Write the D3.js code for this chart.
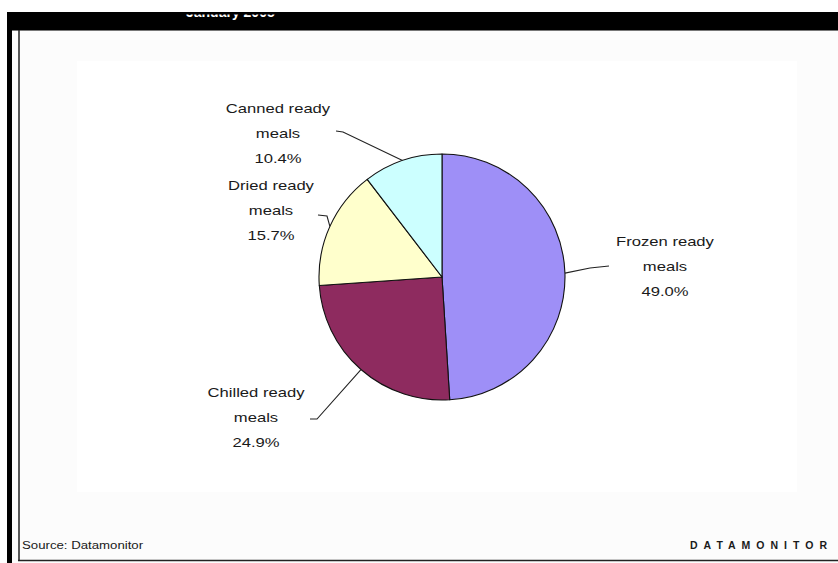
<!DOCTYPE html>
<html><head><meta charset="utf-8">
<script src="https://cdn.jsdelivr.net/npm/d3@7"></script>
<style>html,body{margin:0;padding:0;background:#fff;overflow:hidden}</style>
</head><body>
<svg id="chart" width="838" height="563"></svg>
<script>
// ---- data ----
const categories = ["Frozen ready meals", "Chilled ready meals", "Dried ready meals", "Canned ready meals"];
const labelLine1 = ["Frozen ready", "Chilled ready", "Dried ready", "Canned ready"];
const labelLine2 = ["meals", "meals", "meals", "meals"];
const shares = [49.0, 24.9, 15.7, 10.4];
const sliceColors = ["#9e8ff7", "#8e2b5f", "#ffffcc", "#ccffff"];
const titleText = "January 2005";
const sourceText = "Source: Datamonitor";
const brandText = "DATAMONITOR";

// ---- layout (not data) ----
const W = 838, H = 563;
const cx = 442, cy = 277, R = 123;
// label anchor (center x, first baseline) and leader path points after the pie edge
const labelLayout = [
  {x: 665, y: 246, leader: [[590, 268], [609, 266]]},
  {x: 256, y: 397, leader: [[317, 419], [310, 419]]},
  {x: 271, y: 190, leader: [[327, 216], [318, 215]]},
  {x: 278, y: 113, leader: [[343, 132], [336, 131]]}
];
const lineGap = 25;
const sx = 1.33;

const svg = d3.select("#chart");
svg.append("rect").attr("width", W).attr("height", H).attr("fill", "#ffffff");
svg.append("rect").attr("x", 12).attr("y", 30).attr("width", W - 12).attr("height", H - 30).attr("fill", "#fcfcfc");
svg.append("rect").attr("x", 77).attr("y", 61).attr("width", 720).attr("height", 431).attr("fill", "#ffffff");

// frame
svg.append("rect").attr("x", 7).attr("y", 12).attr("width", W - 7).attr("height", 18).attr("fill", "#000");
svg.append("line").attr("x1", 12).attr("x2", W).attr("y1", 30.5).attr("y2", 30.5).attr("stroke", "#777").attr("stroke-width", 1);
svg.append("rect").attr("x", 7).attr("y", 12).attr("width", 5).attr("height", H - 12).attr("fill", "#000");
svg.append("line").attr("x1", 19).attr("x2", 19).attr("y1", 30).attr("y2", 561).attr("stroke", "#222").attr("stroke-width", 1.5);
svg.append("line").attr("x1", 18).attr("x2", W).attr("y1", 560.5).attr("y2", 560.5).attr("stroke", "#222").attr("stroke-width", 1.5);

// title: only the bottom of the glyphs shows inside the black band
svg.append("clipPath").attr("id", "bandClip")
  .append("rect").attr("x", 7).attr("y", 14.5).attr("width", W).attr("height", 15);
svg.append("text").attr("x", 186).attr("y", 17)
  .attr("clip-path", "url(#bandClip)")
  .attr("font-family", "Liberation Sans, Arial, sans-serif").attr("font-weight", "bold")
  .attr("font-size", 14).attr("fill", "#fff").text(titleText);

// pie
const pie = d3.pie().sort(null).value(d => d).startAngle(0).endAngle(2 * Math.PI);
const arcs = pie(shares);
const arc = d3.arc().innerRadius(0).outerRadius(R);
const g = svg.append("g").attr("transform", `translate(${cx},${cy})`);
g.selectAll("path.slice").data(arcs).join("path")
  .attr("class", "slice")
  .attr("d", arc)
  .attr("fill", (d, i) => sliceColors[i])
  .attr("stroke", "#111").attr("stroke-width", 1.1).attr("stroke-linejoin", "round");

// leaders
const line = d3.line();
arcs.forEach((d, i) => {
  const a = (d.startAngle + d.endAngle) / 2;
  const p0 = [cx + R * Math.sin(a), cy - R * Math.cos(a)];
  svg.append("path").attr("d", line([p0, ...labelLayout[i].leader]))
    .attr("fill", "none").attr("stroke", "#222").attr("stroke-width", 1.1);
});

// labels
const fmt = d3.format(".1f");
arcs.forEach((d, i) => {
  const L = labelLayout[i];
  const lines = [labelLine1[i], labelLine2[i], fmt(shares[i]) + "%"];
  const tg = svg.append("g").attr("transform", `translate(${L.x},${L.y}) scale(${sx},1)`);
  lines.forEach((t, k) => {
    tg.append("text").attr("x", 0).attr("y", k * lineGap)
      .attr("text-anchor", "middle")
      .attr("font-family", "Liberation Sans, Arial, sans-serif")
      .attr("font-size", 12.5).attr("fill", "#1a1a1a").text(t);
  });
});

// footer
svg.append("g").attr("transform", "translate(22,549) scale(1.15,1)")
  .append("text").attr("font-family", "Liberation Sans, Arial, sans-serif")
  .attr("font-size", 11.5).attr("fill", "#1a1a1a").text(sourceText);
svg.append("text").attr("x", 690).attr("y", 549)
  .attr("font-family", "Liberation Sans, Arial, sans-serif").attr("font-weight", "bold")
  .attr("font-size", 10.5).attr("letter-spacing", 6.0).attr("fill", "#1a1a1a").text(brandText);
</script>
</body></html>
